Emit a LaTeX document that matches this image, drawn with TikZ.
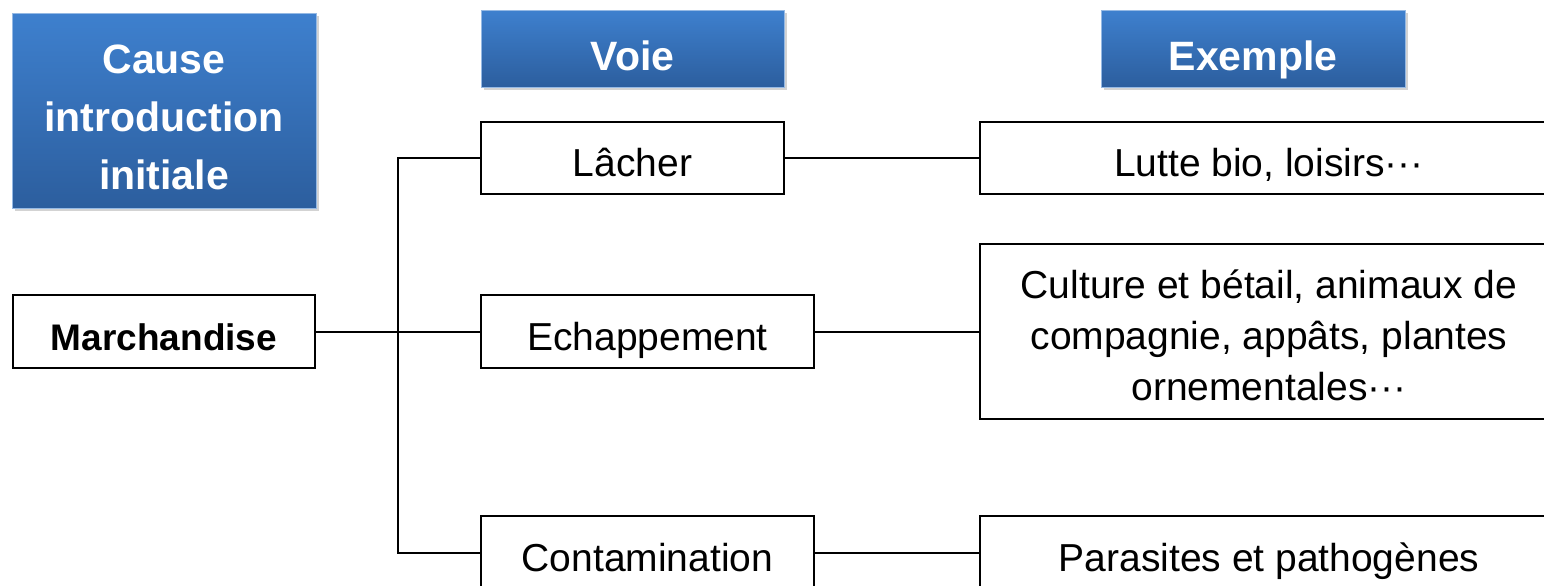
\documentclass[tikz,border=0pt]{standalone}
\usepackage{fontspec}
\setmainfont{Liberation Sans}
\usepackage{tikz}
\usetikzlibrary{shadows}
\definecolor{headtop}{RGB}{62,128,206}
\definecolor{headbot}{RGB}{44,94,158}

\begin{document}
\begin{tikzpicture}[x=0.5pt, y=-0.5pt,
    head/.style={top color=headtop, bottom color=headbot, draw=headtop!55,
        text=white, font=\fontsize{20.5}{29}\selectfont\bfseries,
        align=center, inner sep=0pt,
        drop shadow={opacity=0.35, shadow xshift=1.5pt, shadow yshift=-1.5pt}},
    box/.style={draw, line width=1pt, fill=white, align=center,
        font=\fontsize{19.5}{25.5}\selectfont, inner sep=0pt},
    oneline/.style={text height=#1, text depth=0pt},
    oneline/.default=18.8pt,
    link/.style={line width=1pt}]
    \path[use as bounding box, clip] (0,0) rectangle (1544,585);

    % column headers
    \node[head, minimum width=152pt, minimum height=97.5pt] (cause)
        at (164,110.5) {\rule{0pt}{20.8pt}Cause\\introduction\\initiale};
    \node[head, oneline=21.7pt, minimum width=151.5pt, minimum height=38.5pt] (voie)
        at (632.5,48.5) {Voie};
    \node[head, oneline=21.7pt, minimum width=152pt, minimum height=38.5pt] (exemple)
        at (1253,48.5) {Exemple};

    % boxes
    \node[box, oneline=19.2pt, minimum width=151pt, minimum height=36.5pt,
        font=\fontsize{18.5}{25.5}\selectfont\bfseries] (march) at (164,331.5) {Marchandise};
    \node[box, oneline, minimum width=151.5pt, minimum height=36pt] (lacher) at (632.5,158) {Lâcher};
    \node[box, oneline, minimum width=166.5pt, minimum height=36.5pt] (echap) at (647.5,331.5) {Echappement};
    \node[box, oneline, minimum width=166.5pt, minimum height=36.5pt] (contam) at (647.5,552.5) {Contamination};
    \node[box, oneline, minimum width=289pt, minimum height=36pt] (lutte) at (1269,158) {Lutte bio, loisirs···};
    \node[box, minimum width=289pt, minimum height=87.5pt] (culture) at (1269,331.5)
        {\rule{0pt}{18.3pt}Culture et bétail, animaux de\\compagnie, appâts, plantes\\ornementales···};
    \node[box, oneline, minimum width=289pt, minimum height=36.5pt] (parasites) at (1269,552.5)
        {Parasites et pathogènes};

    \coordinate (trunk) at (398,331.5);
    \draw[link] (march) -- (echap);
    \draw[link] (lacher.west) -| (trunk) |- (contam.west);
    \draw[link] (lacher) -- (lutte);
    \draw[link] (echap) -- (culture);
    \draw[link] (contam) -- (parasites);

\end{tikzpicture}
\end{document}
